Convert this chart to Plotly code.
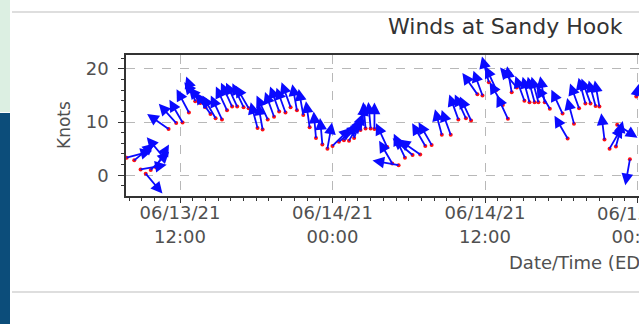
import math
from datetime import datetime
import plotly.graph_objects as go

# ---- observations: time (EDT), wind speed (knots), direction wind blows FROM (deg) ----
obs_time = [
    "2021-06-13 07:48", "2021-06-13 08:24", "2021-06-13 08:54", "2021-06-13 09:18",
    "2021-06-13 09:42", "2021-06-13 10:06", "2021-06-13 10:42", "2021-06-13 11:06",
    "2021-06-13 11:42", "2021-06-13 12:12", "2021-06-13 12:42", "2021-06-13 13:12",
    "2021-06-13 13:36", "2021-06-13 14:00", "2021-06-13 14:24", "2021-06-13 14:48",
    "2021-06-13 15:18", "2021-06-13 15:42", "2021-06-13 16:06", "2021-06-13 16:30",
    "2021-06-13 17:00", "2021-06-13 17:24", "2021-06-13 18:06", "2021-06-13 18:30",
    "2021-06-13 18:54", "2021-06-13 19:24", "2021-06-13 19:48", "2021-06-13 20:18",
    "2021-06-13 20:42", "2021-06-13 21:12", "2021-06-13 21:42", "2021-06-13 22:12",
    "2021-06-13 22:42", "2021-06-13 23:12", "2021-06-13 23:36", "2021-06-14 00:00",
    "2021-06-14 00:30", "2021-06-14 00:54", "2021-06-14 01:18", "2021-06-14 01:42",
    "2021-06-14 02:12", "2021-06-14 02:36", "2021-06-14 03:00", "2021-06-14 03:18",
    "2021-06-14 04:18", "2021-06-14 04:42", "2021-06-14 05:12", "2021-06-14 05:42",
    "2021-06-14 06:18", "2021-06-14 06:54", "2021-06-14 07:18", "2021-06-14 07:48",
    "2021-06-14 08:36", "2021-06-14 09:18", "2021-06-14 09:54", "2021-06-14 10:30",
    "2021-06-14 10:54", "2021-06-14 11:24", "2021-06-14 11:48", "2021-06-14 12:18",
    "2021-06-14 12:54", "2021-06-14 13:24", "2021-06-14 13:48", "2021-06-14 14:06",
    "2021-06-14 14:30", "2021-06-14 15:06", "2021-06-14 15:30", "2021-06-14 15:54",
    "2021-06-14 16:12", "2021-06-14 16:42", "2021-06-14 17:06", "2021-06-14 18:06",
    "2021-06-14 18:30", "2021-06-14 19:00", "2021-06-14 19:24", "2021-06-14 19:54",
    "2021-06-14 20:18", "2021-06-14 20:42", "2021-06-14 21:00", "2021-06-14 21:24",
    "2021-06-14 21:48", "2021-06-14 22:18", "2021-06-14 22:24", "2021-06-14 23:24",
    "2021-06-14 23:54",
]
speed_kt = [
    3.3, 2.8, 1.1, 0.3, 1.0, 1.5, 3.4, 8.7, 9.8, 9.9, 11.8, 13.9,
    13.6, 12.8, 11.5, 10.7, 10.5, 12.2, 12.9, 12.9, 12.8, 12.6, 8.9, 8.6,
    10.5, 11.0, 12.0, 11.8, 12.8, 12.2, 11.3, 9.0, 7.0, 5.8, 5.0, 5.5,
    6.3, 6.6, 6.5, 7.0, 8.5, 8.8, 8.8, 8.7, 5.3, 2.2, 1.9, 3.3,
    3.8, 3.9, 5.5, 5.7, 7.6, 7.6, 10.5, 10.7, 10.3, 15.2, 15.0, 17.5,
    16.0, 13.2, 10.6, 15.6, 16.5, 14.0, 13.7, 13.7, 13.7, 13.7, 12.5, 11.6,
    6.9, 9.7, 12.6, 13.5, 13.5, 13.0, 12.9, 6.7, 5.0, 5.4, 9.5, 3.0,
    14.8,
]
dir_from_deg = [
    255, 230, 260, 320, 225, 210, 140, 125, 138, 150, 152, 160,
    142, 140, 145, 150, 155, 155, 155, 155, 155, 150, 165, 170,
    155, 160, 160, 160, 160, 170, 170, 172, 175, 175, 190, 225,
    230, 225, 210, 200, 190, 175, 175, 180, 155, 150, 100, 155,
    130, 125, 150, 150, 165, 160, 160, 155, 155, 145, 160, 165,
    155, 150, 155, 170, 140, 160, 165, 165, 165, 170, 150, 155,
    150, 165, 160, 165, 160, 165, 170, 173, 210, 195, 300, 10,
    240,
]

# ---- axes ----
x_range = ["2021-06-13 07:45", "2021-06-15 00:07"]
y_range = [-3.9, 22.6]
x_tick_vals = ["2021-06-13 12:00", "2021-06-14 00:00", "2021-06-14 12:00", "2021-06-15 00:00"]
x_tick_text = ["06/13/21<br>12:00", "06/14/21<br>00:00", "06/14/21<br>12:00", "06/15/21<br>00:00"]
y_tick_vals = [0, 10, 20]
y_tick_text = ["0", "10", "20"]

# page geometry (px)
W, H = 639, 324
PL, PR, PT, PB = 126, 639, 55, 196
ARROW_LEN = 28
FONT = "DejaVu Sans"
TXT = "#505050"


def px_x(px):
    return (px - PL) / (PR - PL)


def px_y(py):
    return (PB - py) / (PB - PT)


def date_frac(s):
    fmt = "%Y-%m-%d %H:%M"
    t0, t1 = (datetime.strptime(v, fmt) for v in x_range)
    return (datetime.strptime(s, fmt) - t0) / (t1 - t0)


fig = go.Figure()

# red dots: the measured speed at each time
fig.add_trace(go.Scatter(
    x=obs_time, y=speed_kt, mode="markers",
    marker=dict(color="#ff1010", size=4, line=dict(width=0)),
    hoverinfo="skip", showlegend=False,
))

# blue arrows: direction the wind is blowing toward, starting at each dot
annotations = []
for t, s, d in zip(obs_time, speed_kt, dir_from_deg):
    to = math.radians((d + 180) % 360)
    annotations.append(dict(
        x=t, y=s, xref="x", yref="y", text="",
        showarrow=True, arrowside="start",
        ax=ARROW_LEN * math.sin(to), ay=-ARROW_LEN * math.cos(to),
        startarrowhead=2, startarrowsize=1.3, arrowwidth=1.8,
        arrowcolor="#0a0aff", standoff=0, startstandoff=0,
    ))

# tick labels for ticks whose text runs past the plot edge
for v, txt in zip(x_tick_vals, x_tick_text):
    f = date_frac(v)
    if f > 0.9:
        annotations.append(dict(
            text=txt, xref="paper", yref="paper", x=f, y=px_y(201),
            xanchor="center", yanchor="top", showarrow=False,
            font=dict(family=FONT, size=18, color=TXT)))

annotations += [
    dict(text="Winds at Sandy Hook", xref="paper", yref="paper",
         x=px_x(505.5), y=px_y(27), xanchor="center", yanchor="middle",
         showarrow=False, font=dict(family=FONT, size=22, color="#333333")),
    dict(text="Knots", xref="paper", yref="paper", textangle=-90,
         x=px_x(64), y=px_y(125), xanchor="center", yanchor="middle",
         showarrow=False, font=dict(family=FONT, size=17, color=TXT)),
    dict(text="Date/Time (EDT)", xref="paper", yref="paper",
         x=px_x(507), y=px_y(262), xanchor="left", yanchor="middle",
         showarrow=False, font=dict(family=FONT, size=18, color=TXT)),
]

shapes = [
    # page furniture around the chart
    dict(type="rect", xref="paper", yref="paper", layer="below",
         x0=px_x(0), x1=px_x(10), y0=px_y(0), y1=px_y(112),
         fillcolor="#dcefe2", line=dict(width=0)),
    dict(type="rect", xref="paper", yref="paper", layer="below",
         x0=px_x(0), x1=px_x(10), y0=px_y(113), y1=px_y(324),
         fillcolor="#0c4d7a", line=dict(width=0)),
    dict(type="line", xref="paper", yref="paper", layer="below",
         x0=px_x(12), x1=px_x(639), y0=px_y(12), y1=px_y(12),
         line=dict(color="#dedede", width=2)),
    dict(type="line", xref="paper", yref="paper", layer="below",
         x0=px_x(12), x1=px_x(639), y0=px_y(292), y1=px_y(292),
         line=dict(color="#dedede", width=2)),
]

fig.update_layout(
    width=W, height=H,
    margin=dict(l=PL, r=W - PR, t=PT, b=H - PB, pad=0),
    paper_bgcolor="white", plot_bgcolor="white",
    annotations=annotations, shapes=shapes,
    showlegend=False,
)

fig.update_xaxes(
    type="date", range=x_range,
    tickmode="array", tickvals=x_tick_vals, ticktext=x_tick_text,
    tickfont=dict(family=FONT, size=18, color=TXT),
    ticks="outside", ticklen=5, tickwidth=1.2, tickcolor="#333333",
    ticklabelstandoff=-5,
    showline=True, linecolor="#333333", linewidth=1.6, mirror=True,
    showgrid=True, gridcolor="#b8b8b8", griddash="dash", gridwidth=1,
    zeroline=False,
    minor=dict(dtick=3600000, ticks="outside", ticklen=3, tickcolor="#333333",
               showgrid=False),
)

fig.update_yaxes(
    range=y_range,
    tickmode="array", tickvals=y_tick_vals, ticktext=y_tick_text,
    tickfont=dict(family=FONT, size=18, color=TXT),
    ticks="outside", ticklen=6, tickwidth=1.2, tickcolor="#333333",
    ticklabelstandoff=6,
    showline=True, linecolor="#333333", linewidth=1.6, mirror=False,
    showgrid=True, gridcolor="#b8b8b8", griddash="dash", gridwidth=1,
    zeroline=False,
    minor=dict(dtick=2, tick0=0, ticks="outside", ticklen=3, tickcolor="#333333",
               showgrid=False),
)

fig.write_html("out.html")
